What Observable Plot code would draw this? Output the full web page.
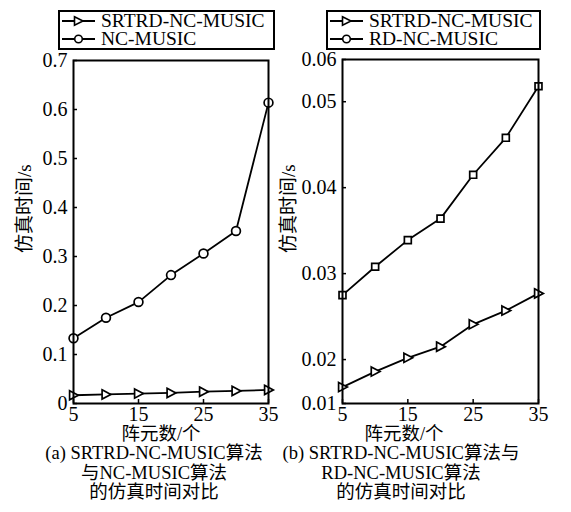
<!DOCTYPE html>
<html>
<head>
<meta charset="utf-8">
<script src="https://cdn.jsdelivr.net/npm/d3@7"></script>
<script src="https://cdn.jsdelivr.net/npm/@observablehq/plot@0.6"></script>
<style>
  body { margin: 0; background: #fff; }
  #wrap { position: relative; width: 571px; height: 512px; background: #fff; overflow: hidden;
          font-family: "Liberation Serif", "Noto Sans CJK SC", serif; color: #000; }
  .cap { position: absolute; transform: translateX(-50%); white-space: nowrap; text-align: center; font-size: 18.5px; line-height: 19.5px; }
  .legend { position: absolute; box-sizing: border-box; border: 2px solid #000; background: #fff; }
  .row { position: relative; height: 18px; line-height: 18px; font-size: 19.5px; white-space: nowrap; }
  .row svg { position: absolute; left: 0; top: 0; }
  .row span { position: absolute; left: 41px; top: 0; }
</style>
</head>
<body>
<div id="wrap"></div>
<script>
// ---------- data ----------
const elements = [5, 10, 15, 20, 25, 30, 35];            // 阵元数/个
const srtrd = [0.0168, 0.0186, 0.0202, 0.0215, 0.0241, 0.0257, 0.0277]; // SRTRD-NC-MUSIC
const ncMusic = [0.133, 0.175, 0.207, 0.262, 0.306, 0.352, 0.614];        // NC-MUSIC
const rdNcMusic = [0.0275, 0.0308, 0.0339, 0.0364, 0.0415, 0.0458, 0.0518]; // RD-NC-MUSIC
const xTicks = [5, 15, 25, 35];
const yTicksA = [0, 0.1, 0.2, 0.3, 0.4, 0.5, 0.6, 0.7];
const yTicksB = [0.01, 0.02, 0.03, 0.04, 0.05, 0.06];
const seriesNames = ["SRTRD-NC-MUSIC", "NC-MUSIC", "RD-NC-MUSIC"];
const xLabel = "阵元数/个";
const yLabel = "仿真时间/s";
const captionA = ["(a) SRTRD-NC-MUSIC算法", "与NC-MUSIC算法", "的仿真时间对比"];
const captionB = ["(b) SRTRD-NC-MUSIC算法与", "RD-NC-MUSIC算法", "的仿真时间对比"];

const rows = (ys) => elements.map((x, i) => ({x, y: ys[i]}));

// right-pointing triangle symbol
const triRight = {
  draw(ctx, size) {
    const s = Math.sqrt(size / Math.PI);
    ctx.moveTo(-0.85 * s, -s);
    ctx.lineTo(1.05 * s, 0);
    ctx.lineTo(-0.85 * s, s);
    ctx.closePath();
  }
};

const font = '"Liberation Serif", "Noto Sans CJK SC", serif';
const fmt = d => String(d);

function panel({width, marginLeft, marginRight, marginTop, y, yTicks, series, labelDx, labelDy}) {
  const marks = [];
  for (const s of series) {
    marks.push(Plot.line(rows(s.values), {x: "x", y: "y", stroke: "#000", strokeWidth: 1.8}));
    marks.push(Plot.dot(rows(s.values), {x: "x", y: "y", symbol: s.symbol, r: s.r, stroke: "#000", strokeWidth: 1.7, fill: "#fff"}));
  }
  marks.push(Plot.frame({stroke: "#000", strokeWidth: 2}));
  // tick labels
  marks.push(Plot.axisY({ticks: yTicks, tickSize: 0, tickPadding: 6, tickFormat: fmt, label: null, fontSize: 20}));
  marks.push(Plot.axisX({ticks: xTicks, tickSize: 0, tickPadding: 3, tickFormat: fmt, label: null, fontSize: 20}));
  // inward ticks
  marks.push(Plot.axisY({ticks: yTicks, tickSize: 4, dx: 4, tickFormat: () => "", label: null, strokeWidth: 1.5}));
  marks.push(Plot.axisX({ticks: xTicks, tickSize: 4, dy: -4, tickFormat: () => "", label: null, strokeWidth: 1.5}));
  marks.push(Plot.text([yLabel], {text: d => d, frameAnchor: "left", rotate: -90, dx: labelDx, dy: labelDy, fontSize: 19, fill: "#000"}));
  return Plot.plot({
    width, height: 430, marginLeft, marginRight, marginTop, marginBottom: 27,
    style: {fontFamily: font, fontSize: "20px", color: "#000", background: "transparent", overflow: "visible"},
    x: {type: "linear", domain: [5, 35]},
    y,
    marks
  });
}

const wrap = document.getElementById("wrap");

const pA = panel({
  width: 275, marginLeft: 73, marginRight: 7, marginTop: 60,
  y: {type: "linear", domain: [0, 0.7]}, yTicks: yTicksA,
  series: [
    {values: srtrd, symbol: triRight, r: 4.6},
    {values: ncMusic, symbol: "circle", r: 4.4}
  ],
  labelDx: -49, labelDy: 21
});
pA.style.position = "absolute"; pA.style.left = "0px"; pA.style.top = "0px";
wrap.appendChild(pA);

// right panel: the axis is labelled 0.01 / 0.06 at the frame ends, linear in between
const pB = panel({
  width: 296, marginLeft: 67, marginRight: 33, marginTop: 59,
  y: {type: "linear", domain: [0.01, 0.0149, 0.0549, 0.06], range: [403, 402.9, 59.1, 59]}, yTicks: yTicksB,
  series: [
    {values: srtrd, symbol: triRight, r: 4.6},
    {values: rdNcMusic, symbol: "square", r: 3.9}
  ],
  labelDx: -54, labelDy: 21.5
});
pB.style.position = "absolute"; pB.style.left = "275px"; pB.style.top = "0px";
wrap.appendChild(pB);

// legends
function legend(left, width, entries) {
  const box = document.createElement("div");
  box.className = "legend";
  Object.assign(box.style, {left: left + "px", top: "10px", width: width + "px", height: "40px"});
  for (const e of entries) {
    const row = document.createElement("div");
    row.className = "row";
    const sym = e.symbol === "tri"
      ? '<path d="M14.5,4.75 L23,9 L14.5,13.25 Z" fill="#fff" stroke="#000" stroke-width="1.6"/>'
      : '<circle cx="18.5" cy="9" r="3.8" fill="#fff" stroke="#000" stroke-width="1.6"/>';
    row.innerHTML = `<svg width="40" height="18"><line x1="2" x2="35" y1="9" y2="9" stroke="#000" stroke-width="1.8"/>${sym}</svg><span>${e.name}</span>`;
    box.appendChild(row);
  }
  wrap.appendChild(box);
}
legend(58, 217, [{symbol: "tri", name: seriesNames[0]}, {symbol: "circle", name: seriesNames[1]}]);
legend(326, 215, [{symbol: "tri", name: seriesNames[0]}, {symbol: "circle", name: seriesNames[2]}]);

// x labels and captions
function caption(cx, xl, lines) {
  const l = document.createElement("div");
  l.className = "cap";
  Object.assign(l.style, {left: cx.xl + "px", top: "424px", fontSize: "18.5px", lineHeight: "20px"});
  l.textContent = xl;
  wrap.appendChild(l);
  const c = document.createElement("div");
  c.className = "cap";
  Object.assign(c.style, {left: cx.cap + "px", top: "444px"});
  c.innerHTML = lines.join("<br>");
  wrap.appendChild(c);
}
caption({xl: 161, cap: 154}, xLabel, captionA);
caption({xl: 404, cap: 401}, xLabel, captionB);
</script>
</body>
</html>
